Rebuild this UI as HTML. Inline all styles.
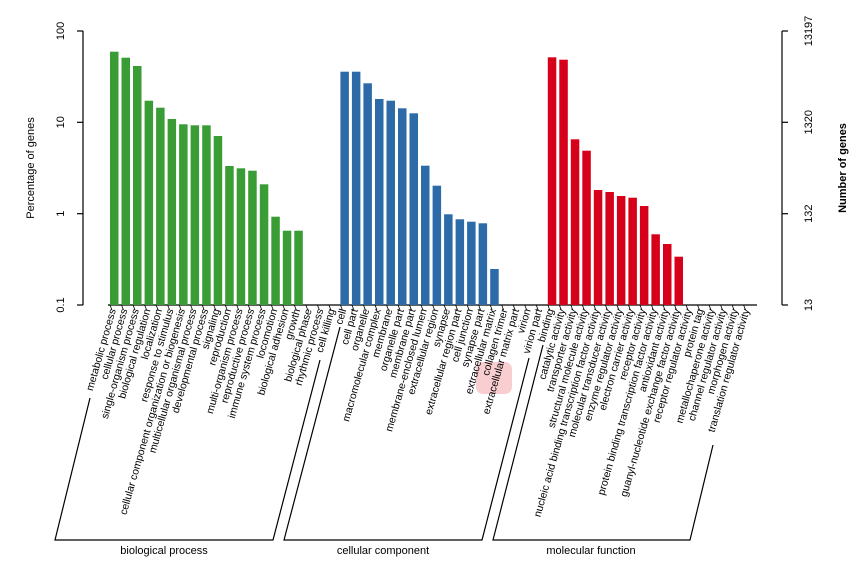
<!DOCTYPE html>
<html><head><meta charset="utf-8"><style>body{margin:0;background:#fff}svg{display:block;font-family:"Liberation Sans",sans-serif}</style></head>
<body>
<svg width="866" height="570" viewBox="0 0 866 570" xmlns="http://www.w3.org/2000/svg">
<rect width="866" height="570" fill="#fff"/>
<g stroke="#000" stroke-width="1.2" fill="none">
<line x1="83" y1="31" x2="83" y2="305"/>
<line x1="77" y1="31" x2="83" y2="31"/><line x1="77" y1="122.3" x2="83" y2="122.3"/><line x1="77" y1="213.7" x2="83" y2="213.7"/><line x1="77" y1="305" x2="83" y2="305"/>
<line x1="782" y1="31" x2="782" y2="305"/>
<line x1="782" y1="31" x2="788" y2="31"/><line x1="782" y1="122.3" x2="788" y2="122.3"/><line x1="782" y1="213.7" x2="788" y2="213.7"/><line x1="782" y1="305" x2="788" y2="305"/>
<line x1="108" y1="305" x2="757" y2="305"/>
</g>
<g stroke="#000" stroke-width="0.8">
<path d="M110,305l2,5M121.5,305l2,5M133,305l2,5M144.6,305l2,5M156.1,305l2,5M167.6,305l2,5M179.1,305l2,5M190.6,305l2,5M202.2,305l2,5M213.7,305l2,5M225.2,305l2,5M236.7,305l2,5M248.2,305l2,5M259.8,305l2,5M271.3,305l2,5M282.8,305l2,5M294.3,305l2,5M305.8,305l2,5M317.4,305l2,5M328.9,305l2,5M340.4,305l2,5M351.9,305l2,5M363.4,305l2,5M375,305l2,5M386.5,305l2,5M398,305l2,5M409.5,305l2,5M421,305l2,5M432.6,305l2,5M444.1,305l2,5M455.6,305l2,5M467.1,305l2,5M478.6,305l2,5M490.2,305l2,5M501.7,305l2,5M513.2,305l2,5M524.7,305l2,5M536.2,305l2,5M547.8,305l2,5M559.3,305l2,5M570.8,305l2,5M582.3,305l2,5M593.8,305l2,5M605.4,305l2,5M616.9,305l2,5M628.4,305l2,5M639.9,305l2,5M651.4,305l2,5M663,305l2,5M674.5,305l2,5M686,305l2,5M697.5,305l2,5M709,305l2,5M720.6,305l2,5M732.1,305l2,5M743.6,305l2,5"/>
</g>
<g font-size="11" fill="#000" text-anchor="middle">
<text transform="translate(64,31) rotate(-90)">100</text>
<text transform="translate(64,122.3) rotate(-90)">10</text>
<text transform="translate(64,213.7) rotate(-90)">1</text>
<text transform="translate(64,305) rotate(-90)">0.1</text>
<text transform="translate(34,168) rotate(-90)">Percentage of genes</text>
<text transform="translate(812,31) rotate(-90)">13197</text>
<text transform="translate(812,122.3) rotate(-90)">1320</text>
<text transform="translate(812,213.7) rotate(-90)">132</text>
<text transform="translate(812,305) rotate(-90)">13</text>
<text transform="translate(846,168) rotate(-90)" font-weight="bold">Number of genes</text>
</g>
<g fill="#3a9c35">
<rect x="110" y="51.7" width="8.5" height="253.3"/>
<rect x="121.5" y="57.7" width="8.5" height="247.3"/>
<rect x="133" y="66" width="8.5" height="239"/>
<rect x="144.6" y="100.7" width="8.5" height="204.3"/>
<rect x="156.1" y="107.7" width="8.5" height="197.3"/>
<rect x="167.6" y="119" width="8.5" height="186"/>
<rect x="179.1" y="124.3" width="8.5" height="180.7"/>
<rect x="190.6" y="125.3" width="8.5" height="179.7"/>
<rect x="202.2" y="125.3" width="8.5" height="179.7"/>
<rect x="213.7" y="136" width="8.5" height="169"/>
<rect x="225.2" y="166" width="8.5" height="139"/>
<rect x="236.7" y="168.3" width="8.5" height="136.7"/>
<rect x="248.2" y="170.7" width="8.5" height="134.3"/>
<rect x="259.8" y="184.3" width="8.5" height="120.7"/>
<rect x="271.3" y="216.7" width="8.5" height="88.3"/>
<rect x="282.8" y="230.7" width="8.5" height="74.3"/>
<rect x="294.3" y="230.7" width="8.5" height="74.3"/>
</g>
<g fill="#2c6aa8">
<rect x="340.4" y="71.7" width="8.5" height="233.3"/>
<rect x="351.9" y="71.7" width="8.5" height="233.3"/>
<rect x="363.4" y="83.3" width="8.5" height="221.7"/>
<rect x="375" y="99" width="8.5" height="206"/>
<rect x="386.5" y="100.7" width="8.5" height="204.3"/>
<rect x="398" y="108.3" width="8.5" height="196.7"/>
<rect x="409.5" y="113.3" width="8.5" height="191.7"/>
<rect x="421" y="165.7" width="8.5" height="139.3"/>
<rect x="432.6" y="185.7" width="8.5" height="119.3"/>
<rect x="444.1" y="214.3" width="8.5" height="90.7"/>
<rect x="455.6" y="219.3" width="8.5" height="85.7"/>
<rect x="467.1" y="221.7" width="8.5" height="83.3"/>
<rect x="478.6" y="223.3" width="8.5" height="81.7"/>
<rect x="490.2" y="269" width="8.5" height="36"/>
</g>
<g fill="#d7001a">
<rect x="547.8" y="57.3" width="8.5" height="247.7"/>
<rect x="559.3" y="59.7" width="8.5" height="245.3"/>
<rect x="570.8" y="139.3" width="8.5" height="165.7"/>
<rect x="582.3" y="150.7" width="8.5" height="154.3"/>
<rect x="593.8" y="190" width="8.5" height="115"/>
<rect x="605.4" y="192" width="8.5" height="113"/>
<rect x="616.9" y="196" width="8.5" height="109"/>
<rect x="628.4" y="197.7" width="8.5" height="107.3"/>
<rect x="639.9" y="206" width="8.5" height="99"/>
<rect x="651.4" y="234.3" width="8.5" height="70.7"/>
<rect x="663" y="244" width="8.5" height="61"/>
<rect x="674.5" y="256.7" width="8.5" height="48.3"/>
</g>
<rect x="476" y="362" width="36" height="32" rx="7" fill="#f7b9bd" opacity="0.7"/>
<g font-size="10.5" fill="#000" text-anchor="end">
<text transform="translate(116,310) rotate(-74)">metabolic process</text>
<text transform="translate(127.5,310) rotate(-74)">cellular process</text>
<text transform="translate(139,310) rotate(-74)">single-organism process</text>
<text transform="translate(150.6,310) rotate(-74)">biological regulation</text>
<text transform="translate(162.1,310) rotate(-74)">localization</text>
<text transform="translate(173.6,310) rotate(-74)">response to stimulus</text>
<text transform="translate(185.1,310) rotate(-74)">cellular component organization or biogenesis</text>
<text transform="translate(196.6,310) rotate(-74)">multicellular organismal process</text>
<text transform="translate(208.2,310) rotate(-74)">developmental process</text>
<text transform="translate(219.7,310) rotate(-74)">signaling</text>
<text transform="translate(231.2,310) rotate(-74)">reproduction</text>
<text transform="translate(242.7,310) rotate(-74)">multi-organism process</text>
<text transform="translate(254.2,310) rotate(-74)">reproductive process</text>
<text transform="translate(265.8,310) rotate(-74)">immune system process</text>
<text transform="translate(277.3,310) rotate(-74)">locomotion</text>
<text transform="translate(288.8,310) rotate(-74)">biological adhesion</text>
<text transform="translate(300.3,310) rotate(-74)">growth</text>
<text transform="translate(311.8,310) rotate(-74)">biological phase</text>
<text transform="translate(323.4,310) rotate(-74)">rhythmic process</text>
<text transform="translate(334.9,310) rotate(-74)">cell killing</text>
<text transform="translate(346.4,310) rotate(-74)">cell</text>
<text transform="translate(357.9,310) rotate(-74)">cell part</text>
<text transform="translate(369.4,310) rotate(-74)">organelle</text>
<text transform="translate(381,310) rotate(-74)">macromolecular complex</text>
<text transform="translate(392.5,310) rotate(-74)">membrane</text>
<text transform="translate(404,310) rotate(-74)">organelle part</text>
<text transform="translate(415.5,310) rotate(-74)">membrane part</text>
<text transform="translate(427,310) rotate(-74)">membrane-enclosed lumen</text>
<text transform="translate(438.6,310) rotate(-74)">extracellular region</text>
<text transform="translate(450.1,310) rotate(-74)">synapse</text>
<text transform="translate(461.6,310) rotate(-74)">extracellular region part</text>
<text transform="translate(473.1,310) rotate(-74)">cell junction</text>
<text transform="translate(484.6,310) rotate(-74)">synapse part</text>
<text transform="translate(496.2,310) rotate(-74)">extracellular matrix</text>
<text transform="translate(507.7,310) rotate(-74)">collagen trimer</text>
<text transform="translate(519.2,310) rotate(-74)">extracellular matrix part</text>
<text transform="translate(530.7,310) rotate(-74)">virion</text>
<text transform="translate(542.2,310) rotate(-74)">virion part</text>
<text transform="translate(553.8,310) rotate(-74)">binding</text>
<text transform="translate(565.3,310) rotate(-74)">catalytic activity</text>
<text transform="translate(576.8,310) rotate(-74)">transporter activity</text>
<text transform="translate(588.3,310) rotate(-74)">structural molecule activity</text>
<text transform="translate(599.8,310) rotate(-74)">nucleic acid binding transcription factor activity</text>
<text transform="translate(611.4,310) rotate(-74)">molecular transducer activity</text>
<text transform="translate(622.9,310) rotate(-74)">enzyme regulator activity</text>
<text transform="translate(634.4,310) rotate(-74)">electron carrier activity</text>
<text transform="translate(645.9,310) rotate(-74)">receptor activity</text>
<text transform="translate(657.4,310) rotate(-74)">protein binding transcription factor activity</text>
<text transform="translate(669,310) rotate(-74)">antioxidant activity</text>
<text transform="translate(680.5,310) rotate(-74)">guanyl-nucleotide exchange factor activity</text>
<text transform="translate(692,310) rotate(-74)">receptor regulator activity</text>
<text transform="translate(703.5,310) rotate(-74)">protein tag</text>
<text transform="translate(715,310) rotate(-74)">metallochaperone activity</text>
<text transform="translate(726.6,310) rotate(-74)">channel regulator activity</text>
<text transform="translate(738.1,310) rotate(-74)">morphogen activity</text>
<text transform="translate(749.6,310) rotate(-74)">translation regulator activity</text>
</g>
<g stroke="#000" stroke-width="1.2" fill="none">
<polyline points="90,398 55,540 273,540 320,360"/>
<polyline points="340,327 284,540 482,540 529,358"/>
<polyline points="543,345 493,540 690,540 713,445"/>
</g>
<g font-size="11" fill="#000" text-anchor="middle">
<text x="164" y="554">biological process</text>
<text x="383" y="554">cellular component</text>
<text x="591" y="554">molecular function</text>
</g>
</svg>
</body></html>
